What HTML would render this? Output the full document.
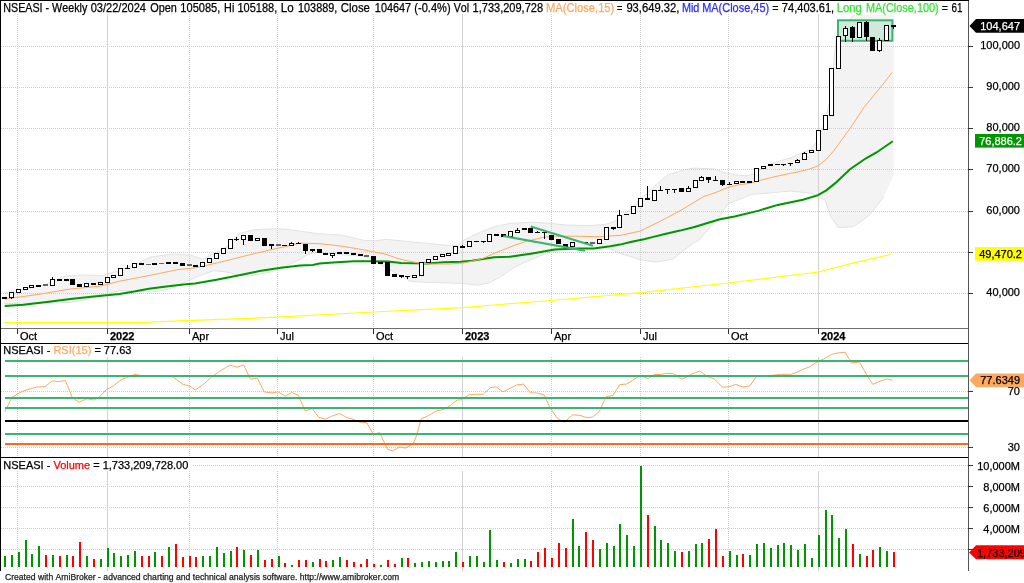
<!DOCTYPE html><html><head><meta charset="utf-8"><title>NSEASI Weekly</title><style>html,body{margin:0;padding:0;background:#fff;width:1024px;height:583px;overflow:hidden}</style></head><body><svg width="1024" height="583" viewBox="0 0 1024 583" style="display:block">
<rect width="1024" height="583" fill="#fff"/>
<polygon points="4.0,293.0 20.0,290.0 35.0,286.5 46.9,283.8 64.5,276.1 82.0,275.0 103.0,275.5 120.0,270.0 138.8,262.9 150.0,257.2 172.7,254.0 190.3,255.0 202.6,259.3 215.0,253.0 228.0,246.0 238.8,233.6 254.5,229.6 277.9,228.7 297.4,230.6 317.0,233.6 340.8,235.0 364.4,240.4 375.2,240.9 386.0,239.3 405.0,241.2 427.3,243.4 449.6,245.6 458.5,245.1 463.0,240.6 471.9,236.1 483.0,231.1 494.2,226.7 510.0,223.4 532.3,222.2 551.2,223.4 565.7,225.0 588.0,225.6 604.7,224.5 613.6,221.7 620.0,218.3 640.0,200.0 654.8,185.6 668.0,174.8 683.6,170.0 693.5,168.1 714.0,168.9 724.3,172.6 734.6,174.7 744.9,175.7 749.0,175.2 753.7,173.4 773.6,162.9 791.0,157.6 803.0,152.3 810.0,149.8 815.0,143.8 818.0,140.2 824.0,125.0 830.0,100.0 836.0,40.0 845.0,25.0 853.6,15.0 893.7,15.0 893.7,175.0 883.4,197.4 868.3,216.2 853.2,226.8 838.1,227.5 830.6,216.2 825.0,200.0 818.0,197.0 812.0,193.4 790.0,191.0 770.0,193.0 750.0,194.5 744.9,197.3 728.4,203.5 720.0,215.6 699.2,240.0 693.5,243.0 672.9,259.1 656.4,262.1 642.0,260.1 621.4,253.9 610.0,249.0 576.9,248.6 554.6,250.0 543.4,254.6 532.3,259.0 521.1,264.0 510.9,269.6 499.7,277.4 488.6,283.0 477.4,285.2 463.0,283.5 449.6,283.0 427.3,282.4 410.0,281.2 392.0,271.0 374.0,260.8 364.4,256.5 340.0,254.5 314.0,252.2 305.0,256.1 300.0,259.2 286.3,265.8 270.2,272.2 248.7,276.0 240.0,275.4 227.2,272.2 214.3,270.6 200.0,275.5 185.0,282.0 168.4,289.2 155.0,292.0 120.0,290.5 100.0,295.5 81.0,300.5 70.3,302.5 35.0,303.0 3.5,303.7" fill="#f3f3f3"/>
<polyline points="4.0,293.0 20.0,290.0 35.0,286.5 46.9,283.8 64.5,276.1 82.0,275.0 103.0,275.5 120.0,270.0 138.8,262.9 150.0,257.2 172.7,254.0 190.3,255.0 202.6,259.3 215.0,253.0 228.0,246.0 238.8,233.6 254.5,229.6 277.9,228.7 297.4,230.6 317.0,233.6 340.8,235.0 364.4,240.4 375.2,240.9 386.0,239.3 405.0,241.2 427.3,243.4 449.6,245.6 458.5,245.1 463.0,240.6 471.9,236.1 483.0,231.1 494.2,226.7 510.0,223.4 532.3,222.2 551.2,223.4 565.7,225.0 588.0,225.6 604.7,224.5 613.6,221.7 620.0,218.3 640.0,200.0 654.8,185.6 668.0,174.8 683.6,170.0 693.5,168.1 714.0,168.9 724.3,172.6 734.6,174.7 744.9,175.7 749.0,175.2 753.7,173.4 773.6,162.9 791.0,157.6 803.0,152.3 810.0,149.8 815.0,143.8 818.0,140.2 824.0,125.0 830.0,100.0 836.0,40.0 845.0,25.0 853.6,15.0" fill="none" stroke="#e0e0e0" stroke-width="0.9"/>
<polyline points="883.4,197.4 868.3,216.2 853.2,226.8 838.1,227.5 830.6,216.2 825.0,200.0 818.0,197.0 812.0,193.4 790.0,191.0 770.0,193.0 750.0,194.5 744.9,197.3 728.4,203.5 720.0,215.6 699.2,240.0 693.5,243.0 672.9,259.1 656.4,262.1 642.0,260.1 621.4,253.9 610.0,249.0 576.9,248.6 554.6,250.0 543.4,254.6 532.3,259.0 521.1,264.0 510.9,269.6 499.7,277.4 488.6,283.0 477.4,285.2 463.0,283.5 449.6,283.0 427.3,282.4 410.0,281.2 392.0,271.0 374.0,260.8 364.4,256.5 340.0,254.5 314.0,252.2 305.0,256.1 300.0,259.2 286.3,265.8 270.2,272.2 248.7,276.0 240.0,275.4 227.2,272.2 214.3,270.6 200.0,275.5 185.0,282.0 168.4,289.2 155.0,292.0 120.0,290.5 100.0,295.5 81.0,300.5 70.3,302.5 35.0,303.0 3.5,303.7" fill="none" stroke="#e0e0e0" stroke-width="0.9"/>
<g shape-rendering="crispEdges">
<line x1="1" y1="46.5" x2="968" y2="46.5" stroke="#cdcdcd" stroke-dasharray="1 1"/>
<line x1="1" y1="87.5" x2="968" y2="87.5" stroke="#cdcdcd" stroke-dasharray="1 1"/>
<line x1="1" y1="128.5" x2="968" y2="128.5" stroke="#cdcdcd" stroke-dasharray="1 1"/>
<line x1="1" y1="169.5" x2="968" y2="169.5" stroke="#cdcdcd" stroke-dasharray="1 1"/>
<line x1="1" y1="211.5" x2="968" y2="211.5" stroke="#cdcdcd" stroke-dasharray="1 1"/>
<line x1="1" y1="252.5" x2="968" y2="252.5" stroke="#cdcdcd" stroke-dasharray="1 1"/>
<line x1="1" y1="293.5" x2="968" y2="293.5" stroke="#cdcdcd" stroke-dasharray="1 1"/>
<line x1="17.5" y1="14" x2="17.5" y2="328" stroke="#cdcdcd" stroke-dasharray="1 1"/>
<line x1="189.5" y1="14" x2="189.5" y2="328" stroke="#cdcdcd" stroke-dasharray="1 1"/>
<line x1="277.5" y1="14" x2="277.5" y2="328" stroke="#cdcdcd" stroke-dasharray="1 1"/>
<line x1="373.5" y1="14" x2="373.5" y2="328" stroke="#cdcdcd" stroke-dasharray="1 1"/>
<line x1="551.5" y1="14" x2="551.5" y2="328" stroke="#cdcdcd" stroke-dasharray="1 1"/>
<line x1="640.5" y1="14" x2="640.5" y2="328" stroke="#cdcdcd" stroke-dasharray="1 1"/>
<line x1="728.5" y1="14" x2="728.5" y2="328" stroke="#cdcdcd" stroke-dasharray="1 1"/>
<line x1="107.5" y1="14" x2="107.5" y2="328" stroke="#d2d2d2"/>
<line x1="462.5" y1="14" x2="462.5" y2="328" stroke="#d2d2d2"/>
<line x1="818.5" y1="14" x2="818.5" y2="328" stroke="#d2d2d2"/>
</g>
<polyline points="4.5,322.5 142.6,322.3 185.5,320.7 200.0,320.2 277.6,317.2 373.7,312.0 462.2,307.6 500.0,304.5 550.8,300.5 640.6,292.7 728.5,283.0 818.4,272.0 851.6,263.4 890.6,254.5" fill="none" stroke="#ffff00" stroke-width="1.2"/>
<polyline points="4.7,306.0 23.4,304.8 46.9,301.9 70.3,299.0 93.8,296.6 119.5,294.1 134.2,291.6 148.8,288.7 168.4,286.2 185.9,284.3 195.0,283.5 216.5,279.7 238.0,275.4 259.4,271.1 281.0,267.7 300.0,265.4 312.9,264.9 319.3,263.5 333.3,262.4 353.7,261.3 369.8,261.3 388.0,261.6 401.0,263.1 427.3,263.4 444.0,262.3 460.7,261.8 471.9,260.7 483.0,259.0 494.2,257.3 510.0,256.8 532.3,253.4 554.6,249.5 576.9,248.4 593.6,248.4 610.3,246.2 620.0,244.6 631.7,241.8 644.0,239.3 652.3,237.1 665.0,234.0 680.0,230.6 693.5,227.2 710.0,222.2 720.0,219.2 734.6,216.4 758.9,210.6 777.7,204.9 802.9,199.8 818.0,195.1 826.3,190.4 835.0,183.4 850.0,169.3 865.6,158.5 876.5,152.5 892.8,141.2" fill="none" stroke="#009600" stroke-width="2"/>
<polyline points="4.7,299.0 35.2,294.9 70.3,289.0 100.0,286.2 119.5,281.2 139.0,277.5 158.6,273.6 178.1,269.6 195.0,267.9 216.5,263.1 238.0,257.7 259.4,252.4 281.0,247.5 300.0,243.1 321.5,243.8 343.0,246.3 364.4,250.0 375.2,252.2 386.0,254.3 396.7,258.1 405.0,260.4 418.4,262.9 431.7,264.0 449.6,264.0 463.0,263.1 474.1,260.7 483.0,258.4 494.2,253.4 505.3,249.0 515.0,245.1 526.7,241.2 543.4,237.3 554.6,236.2 576.9,236.2 599.2,236.7 620.0,235.4 639.8,231.2 659.6,221.6 680.0,210.8 692.0,203.6 704.0,196.4 715.0,192.8 728.5,187.3 738.4,184.9 750.2,183.2 761.9,179.9 773.6,177.0 785.3,174.4 797.0,172.0 808.8,169.3 818.1,165.8 826.3,159.4 833.4,151.2 850.0,128.5 864.4,106.9 881.3,86.4 892.1,72.5" fill="none" stroke="#ffa860" stroke-width="1"/>
<rect x="838" y="20.3" width="54.4" height="20.5" fill="#cfeadb" stroke="#3cb371" stroke-width="2"/>
<g shape-rendering="crispEdges">
<rect x="2" y="297" width="5" height="2" fill="#000"/>
<line x1="11.5" y1="298" x2="11.5" y2="299" stroke="#000"/>
<rect x="9.5" y="292.5" width="4" height="5" fill="#fff" stroke="#000"/>
<rect x="16.5" y="289.5" width="4" height="3" fill="#fff" stroke="#000"/>
<rect x="23.5" y="287.5" width="4" height="2" fill="#fff" stroke="#000"/>
<rect x="29.5" y="285.5" width="4" height="2" fill="#fff" stroke="#000"/>
<rect x="36" y="285" width="5" height="2" fill="#000"/>
<rect x="43" y="284" width="5" height="2" fill="#666"/>
<line x1="52.5" y1="277" x2="52.5" y2="279" stroke="#000"/>
<rect x="50.5" y="279.5" width="4" height="6" fill="#fff" stroke="#000"/>
<rect x="57" y="279" width="5" height="2" fill="#000"/>
<rect x="64" y="279" width="5" height="2" fill="#000"/>
<rect x="70" y="279" width="5" height="6" fill="#000"/>
<rect x="77" y="284" width="5" height="3" fill="#000"/>
<rect x="84.5" y="283.5" width="4" height="3" fill="#fff" stroke="#000"/>
<rect x="91" y="283" width="5" height="2" fill="#000"/>
<rect x="98.5" y="282.5" width="4" height="2" fill="#fff" stroke="#000"/>
<rect x="105.5" y="277.5" width="4" height="5" fill="#fff" stroke="#000"/>
<rect x="111.5" y="275.5" width="4" height="2" fill="#fff" stroke="#000"/>
<rect x="118.5" y="268.5" width="4" height="7" fill="#fff" stroke="#000"/>
<line x1="127.5" y1="265" x2="127.5" y2="268" stroke="#000"/>
<rect x="125" y="268" width="5" height="1" fill="#000"/>
<rect x="132.5" y="263.5" width="4" height="4" fill="#fff" stroke="#000"/>
<rect x="139" y="263" width="5" height="2" fill="#000"/>
<rect x="146" y="264" width="5" height="1" fill="#666"/>
<rect x="152" y="263" width="5" height="2" fill="#000"/>
<rect x="159" y="263" width="5" height="1" fill="#666"/>
<rect x="166" y="262" width="5" height="2" fill="#000"/>
<rect x="173" y="262" width="5" height="2" fill="#000"/>
<rect x="180" y="263" width="5" height="3" fill="#000"/>
<rect x="187" y="264" width="5" height="2" fill="#666"/>
<rect x="193" y="265" width="5" height="2" fill="#000"/>
<rect x="200.5" y="262.5" width="4" height="4" fill="#fff" stroke="#000"/>
<rect x="207.5" y="258.5" width="4" height="4" fill="#fff" stroke="#000"/>
<rect x="214.5" y="253.5" width="4" height="5" fill="#fff" stroke="#000"/>
<rect x="221.5" y="248.5" width="4" height="5" fill="#fff" stroke="#000"/>
<rect x="228.5" y="239.5" width="4" height="9" fill="#fff" stroke="#000"/>
<line x1="236.5" y1="237" x2="236.5" y2="239" stroke="#000"/>
<line x1="236.5" y1="240" x2="236.5" y2="241" stroke="#000"/>
<rect x="234" y="239" width="5" height="1" fill="#000"/>
<line x1="243.5" y1="240" x2="243.5" y2="245" stroke="#000"/>
<rect x="241.5" y="235.5" width="4" height="4" fill="#fff" stroke="#000"/>
<rect x="248" y="235" width="5" height="6" fill="#000"/>
<rect x="255.5" y="238.5" width="4" height="2" fill="#fff" stroke="#000"/>
<rect x="262" y="238" width="5" height="8" fill="#000"/>
<line x1="271.5" y1="246" x2="271.5" y2="249" stroke="#000"/>
<rect x="269" y="244" width="5" height="2" fill="#000"/>
<rect x="276" y="244" width="5" height="2" fill="#666"/>
<rect x="282" y="245" width="5" height="1" fill="#000"/>
<line x1="291.5" y1="242" x2="291.5" y2="243" stroke="#000"/>
<rect x="289.5" y="243.5" width="4" height="2" fill="#fff" stroke="#000"/>
<line x1="298.5" y1="242" x2="298.5" y2="243" stroke="#000"/>
<rect x="296" y="243" width="5" height="1" fill="#000"/>
<line x1="305.5" y1="251" x2="305.5" y2="254" stroke="#000"/>
<rect x="303" y="244" width="5" height="7" fill="#000"/>
<line x1="312.5" y1="251" x2="312.5" y2="252" stroke="#000"/>
<rect x="310" y="249" width="5" height="2" fill="#000"/>
<rect x="317" y="249" width="5" height="4" fill="#000"/>
<rect x="323" y="253" width="5" height="2" fill="#000"/>
<line x1="332.5" y1="256" x2="332.5" y2="258" stroke="#000"/>
<rect x="330.5" y="253.5" width="4" height="2" fill="#fff" stroke="#000"/>
<rect x="337" y="252" width="5" height="2" fill="#000"/>
<rect x="344" y="252" width="5" height="2" fill="#000"/>
<rect x="351" y="253" width="5" height="2" fill="#000"/>
<rect x="358" y="254" width="5" height="2" fill="#000"/>
<rect x="364" y="255" width="5" height="2" fill="#666"/>
<rect x="371" y="256" width="5" height="8" fill="#000"/>
<rect x="378" y="262" width="5" height="2" fill="#000"/>
<rect x="385" y="262" width="5" height="14" fill="#000"/>
<rect x="392" y="274" width="5" height="3" fill="#000"/>
<line x1="401.5" y1="277" x2="401.5" y2="278" stroke="#000"/>
<rect x="399" y="275" width="5" height="2" fill="#000"/>
<line x1="407.5" y1="277" x2="407.5" y2="279" stroke="#000"/>
<rect x="405" y="276" width="5" height="1" fill="#000"/>
<rect x="412.5" y="275.5" width="4" height="2" fill="#fff" stroke="#000"/>
<rect x="419.5" y="262.5" width="4" height="13" fill="#fff" stroke="#000"/>
<rect x="426.5" y="259.5" width="4" height="3" fill="#fff" stroke="#000"/>
<rect x="433.5" y="256.5" width="4" height="3" fill="#fff" stroke="#000"/>
<rect x="440.5" y="254.5" width="4" height="2" fill="#fff" stroke="#000"/>
<rect x="446.5" y="253.5" width="4" height="2" fill="#fff" stroke="#000"/>
<rect x="453.5" y="246.5" width="4" height="7" fill="#fff" stroke="#000"/>
<line x1="462.5" y1="245" x2="462.5" y2="246" stroke="#000"/>
<line x1="462.5" y1="248" x2="462.5" y2="248" stroke="#000"/>
<rect x="460" y="246" width="5" height="2" fill="#000"/>
<rect x="467.5" y="241.5" width="4" height="5" fill="#fff" stroke="#000"/>
<rect x="474" y="241" width="5" height="1" fill="#000"/>
<line x1="483.5" y1="242" x2="483.5" y2="243" stroke="#000"/>
<rect x="481" y="241" width="5" height="1" fill="#000"/>
<rect x="487.5" y="234.5" width="4" height="7" fill="#fff" stroke="#000"/>
<rect x="494" y="234" width="5" height="2" fill="#000"/>
<rect x="501" y="234" width="5" height="3" fill="#000"/>
<rect x="508.5" y="231.5" width="4" height="5" fill="#fff" stroke="#000"/>
<line x1="517.5" y1="228" x2="517.5" y2="230" stroke="#000"/>
<rect x="515.5" y="230.5" width="4" height="2" fill="#fff" stroke="#000"/>
<rect x="522" y="228" width="5" height="2" fill="#000"/>
<rect x="528" y="228" width="5" height="5" fill="#000"/>
<line x1="537.5" y1="231" x2="537.5" y2="232" stroke="#000"/>
<line x1="537.5" y1="233" x2="537.5" y2="233" stroke="#000"/>
<rect x="535" y="232" width="5" height="1" fill="#000"/>
<line x1="544.5" y1="233" x2="544.5" y2="239" stroke="#000"/>
<rect x="542" y="232" width="5" height="1" fill="#000"/>
<rect x="549" y="235" width="5" height="5" fill="#000"/>
<rect x="556" y="239" width="5" height="5" fill="#000"/>
<rect x="563" y="244" width="5" height="3" fill="#000"/>
<rect x="570.5" y="242.5" width="4" height="4" fill="#fff" stroke="#000"/>
<rect x="583" y="242" width="5" height="1" fill="#000"/>
<line x1="592.5" y1="242" x2="592.5" y2="242" stroke="#000"/>
<rect x="590" y="242" width="5" height="2" fill="#666"/>
<rect x="597.5" y="239.5" width="4" height="4" fill="#fff" stroke="#000"/>
<rect x="604.5" y="227.5" width="4" height="12" fill="#fff" stroke="#000"/>
<line x1="613.5" y1="229" x2="613.5" y2="230" stroke="#000"/>
<rect x="611" y="227" width="5" height="2" fill="#000"/>
<line x1="619.5" y1="210" x2="619.5" y2="215" stroke="#000"/>
<rect x="617.5" y="215.5" width="4" height="12" fill="#fff" stroke="#000"/>
<rect x="624" y="214" width="5" height="1" fill="#000"/>
<rect x="631.5" y="206.5" width="4" height="7" fill="#fff" stroke="#000"/>
<rect x="638.5" y="198.5" width="4" height="8" fill="#fff" stroke="#000"/>
<line x1="647.5" y1="186" x2="647.5" y2="198" stroke="#000"/>
<rect x="645" y="198" width="5" height="2" fill="#000"/>
<rect x="652.5" y="190.5" width="4" height="10" fill="#fff" stroke="#000"/>
<line x1="660.5" y1="186" x2="660.5" y2="190" stroke="#000"/>
<rect x="658" y="190" width="5" height="1" fill="#000"/>
<line x1="667.5" y1="190" x2="667.5" y2="194" stroke="#000"/>
<rect x="665" y="189" width="5" height="1" fill="#000"/>
<line x1="674.5" y1="190" x2="674.5" y2="193" stroke="#000"/>
<rect x="672" y="189" width="5" height="1" fill="#000"/>
<rect x="679" y="188" width="5" height="4" fill="#000"/>
<line x1="688.5" y1="186" x2="688.5" y2="188" stroke="#000"/>
<rect x="686.5" y="188.5" width="4" height="3" fill="#fff" stroke="#000"/>
<rect x="693.5" y="180.5" width="4" height="7" fill="#fff" stroke="#000"/>
<line x1="701.5" y1="176" x2="701.5" y2="177" stroke="#000"/>
<rect x="699.5" y="177.5" width="4" height="3" fill="#fff" stroke="#000"/>
<line x1="708.5" y1="180" x2="708.5" y2="183" stroke="#000"/>
<rect x="706" y="177" width="5" height="3" fill="#000"/>
<line x1="715.5" y1="176" x2="715.5" y2="180" stroke="#000"/>
<rect x="713" y="180" width="5" height="1" fill="#000"/>
<line x1="722.5" y1="185" x2="722.5" y2="186" stroke="#000"/>
<rect x="720" y="180" width="5" height="5" fill="#000"/>
<line x1="729.5" y1="182" x2="729.5" y2="184" stroke="#000"/>
<rect x="727" y="184" width="5" height="1" fill="#000"/>
<rect x="734.5" y="181.5" width="4" height="2" fill="#fff" stroke="#000"/>
<rect x="740" y="181" width="5" height="2" fill="#000"/>
<rect x="747" y="181" width="5" height="2" fill="#000"/>
<rect x="754.5" y="168.5" width="4" height="13" fill="#fff" stroke="#000"/>
<rect x="761.5" y="166.5" width="4" height="2" fill="#fff" stroke="#000"/>
<rect x="768" y="164" width="5" height="2" fill="#000"/>
<rect x="775" y="164" width="5" height="1" fill="#000"/>
<line x1="783.5" y1="165" x2="783.5" y2="166" stroke="#000"/>
<rect x="781" y="164" width="5" height="1" fill="#000"/>
<line x1="790.5" y1="164" x2="790.5" y2="166" stroke="#000"/>
<rect x="788" y="163" width="5" height="1" fill="#000"/>
<line x1="797.5" y1="159" x2="797.5" y2="160" stroke="#000"/>
<rect x="795.5" y="160.5" width="4" height="2" fill="#fff" stroke="#000"/>
<line x1="804.5" y1="152" x2="804.5" y2="153" stroke="#000"/>
<rect x="802.5" y="153.5" width="4" height="6" fill="#fff" stroke="#000"/>
<rect x="809.5" y="150.5" width="4" height="2" fill="#fff" stroke="#000"/>
<rect x="816.5" y="130.5" width="4" height="20" fill="#fff" stroke="#000"/>
<rect x="823.5" y="115.5" width="4" height="14" fill="#fff" stroke="#000"/>
<rect x="829.5" y="68.5" width="4" height="47" fill="#fff" stroke="#000"/>
<rect x="836.5" y="36.5" width="4" height="32" fill="#fff" stroke="#000"/>
<line x1="845.5" y1="26" x2="845.5" y2="28" stroke="#000"/>
<line x1="845.5" y1="36" x2="845.5" y2="42" stroke="#000"/>
<rect x="843.5" y="28.5" width="4" height="7" fill="#fff" stroke="#000"/>
<line x1="852.5" y1="26" x2="852.5" y2="27" stroke="#000"/>
<line x1="852.5" y1="38" x2="852.5" y2="42" stroke="#000"/>
<rect x="850" y="27" width="5" height="11" fill="#000"/>
<rect x="857.5" y="22.5" width="4" height="15" fill="#fff" stroke="#000"/>
<line x1="866.5" y1="21" x2="866.5" y2="22" stroke="#000"/>
<line x1="866.5" y1="37" x2="866.5" y2="41" stroke="#000"/>
<rect x="864" y="22" width="5" height="15" fill="#000"/>
<rect x="870" y="37" width="5" height="14" fill="#000"/>
<line x1="879.5" y1="38" x2="879.5" y2="40" stroke="#000"/>
<line x1="879.5" y1="51" x2="879.5" y2="52" stroke="#000"/>
<rect x="877.5" y="40.5" width="4" height="10" fill="#fff" stroke="#000"/>
<rect x="884.5" y="25.5" width="4" height="15" fill="#fff" stroke="#000"/>
<line x1="893.5" y1="27" x2="893.5" y2="29" stroke="#000"/>
<rect x="891" y="25" width="5" height="2" fill="#000"/>
</g>
<line x1="503.2" y1="236" x2="585" y2="250.7" stroke="#3cb371" stroke-width="2"/>
<line x1="530.7" y1="226.5" x2="592.9" y2="245.7" stroke="#3cb371" stroke-width="2"/>
<text x="3.22" y="11.8" font-family="'Liberation Sans', Arial, sans-serif" font-size="12" fill="#000" textLength="84.10" lengthAdjust="spacingAndGlyphs" style="white-space:pre;font-kerning:none" stroke="#000" stroke-width="0.25">NSEASI - Weekly</text>
<text x="90.67" y="11.8" font-family="'Liberation Sans', Arial, sans-serif" font-size="12" fill="#000" textLength="55.36" lengthAdjust="spacingAndGlyphs" style="white-space:pre;font-kerning:none" stroke="#000" stroke-width="0.25">03/22/2024</text>
<text x="150.18" y="11.8" font-family="'Liberation Sans', Arial, sans-serif" font-size="12" fill="#000" textLength="26.62" lengthAdjust="spacingAndGlyphs" style="white-space:pre;font-kerning:none" stroke="#000" stroke-width="0.25">Open</text>
<text x="180.36" y="11.8" font-family="'Liberation Sans', Arial, sans-serif" font-size="12" fill="#000" textLength="39.93" lengthAdjust="spacingAndGlyphs" style="white-space:pre;font-kerning:none" stroke="#000" stroke-width="0.25">105085,</text>
<text x="224.11" y="11.8" font-family="'Liberation Sans', Arial, sans-serif" font-size="12" fill="#000" textLength="10.22" lengthAdjust="spacingAndGlyphs" style="white-space:pre;font-kerning:none" stroke="#000" stroke-width="0.25">Hi</text>
<text x="237.46" y="11.8" font-family="'Liberation Sans', Arial, sans-serif" font-size="12" fill="#000" textLength="39.83" lengthAdjust="spacingAndGlyphs" style="white-space:pre;font-kerning:none" stroke="#000" stroke-width="0.25">105188,</text>
<text x="280.75" y="11.8" font-family="'Liberation Sans', Arial, sans-serif" font-size="12" fill="#000" textLength="12.94" lengthAdjust="spacingAndGlyphs" style="white-space:pre;font-kerning:none" stroke="#000" stroke-width="0.25">Lo</text>
<text x="298.07" y="11.8" font-family="'Liberation Sans', Arial, sans-serif" font-size="12" fill="#000" textLength="39.20" lengthAdjust="spacingAndGlyphs" style="white-space:pre;font-kerning:none" stroke="#000" stroke-width="0.25">103889,</text>
<text x="340.82" y="11.8" font-family="'Liberation Sans', Arial, sans-serif" font-size="12" fill="#000" textLength="29.08" lengthAdjust="spacingAndGlyphs" style="white-space:pre;font-kerning:none" stroke="#000" stroke-width="0.25">Close</text>
<text x="374.87" y="11.8" font-family="'Liberation Sans', Arial, sans-serif" font-size="12" fill="#000" textLength="36.27" lengthAdjust="spacingAndGlyphs" style="white-space:pre;font-kerning:none" stroke="#000" stroke-width="0.25">104647</text>
<text x="414.31" y="11.8" font-family="'Liberation Sans', Arial, sans-serif" font-size="12" fill="#000" textLength="36.27" lengthAdjust="spacingAndGlyphs" style="white-space:pre;font-kerning:none" stroke="#000" stroke-width="0.25">(-0.4%)</text>
<text x="453.65" y="11.8" font-family="'Liberation Sans', Arial, sans-serif" font-size="12" fill="#000" textLength="15.36" lengthAdjust="spacingAndGlyphs" style="white-space:pre;font-kerning:none" stroke="#000" stroke-width="0.25">Vol</text>
<text x="472.56" y="11.8" font-family="'Liberation Sans', Arial, sans-serif" font-size="12" fill="#000" textLength="70.52" lengthAdjust="spacingAndGlyphs" style="white-space:pre;font-kerning:none" stroke="#000" stroke-width="0.25">1,733,209,728</text>
<text x="546.08" y="11.8" font-family="'Liberation Sans', Arial, sans-serif" font-size="12" fill="#ffa860" textLength="68.21" lengthAdjust="spacingAndGlyphs" style="white-space:pre;font-kerning:none" stroke="#ffa860" stroke-width="0.25">MA(Close,15)</text>
<text x="616.95" y="11.8" font-family="'Liberation Sans', Arial, sans-serif" font-size="12" fill="#000" textLength="5.41" lengthAdjust="spacingAndGlyphs" style="white-space:pre;font-kerning:none" stroke="#000" stroke-width="0.25">=</text>
<text x="626.38" y="11.8" font-family="'Liberation Sans', Arial, sans-serif" font-size="12" fill="#000" textLength="52.93" lengthAdjust="spacingAndGlyphs" style="white-space:pre;font-kerning:none" stroke="#000" stroke-width="0.25">93,649.32,</text>
<text x="681.91" y="11.8" font-family="'Liberation Sans', Arial, sans-serif" font-size="12" fill="#2a2aff" textLength="17.49" lengthAdjust="spacingAndGlyphs" style="white-space:pre;font-kerning:none" stroke="#2a2aff" stroke-width="0.25">Mid</text>
<text x="702.20" y="11.8" font-family="'Liberation Sans', Arial, sans-serif" font-size="12" fill="#2a2aff" textLength="66.98" lengthAdjust="spacingAndGlyphs" style="white-space:pre;font-kerning:none" stroke="#2a2aff" stroke-width="0.25">MA(Close,45)</text>
<text x="772.28" y="11.8" font-family="'Liberation Sans', Arial, sans-serif" font-size="12" fill="#000" textLength="6.25" lengthAdjust="spacingAndGlyphs" style="white-space:pre;font-kerning:none" stroke="#000" stroke-width="0.25">=</text>
<text x="781.83" y="11.8" font-family="'Liberation Sans', Arial, sans-serif" font-size="12" fill="#000" textLength="52.36" lengthAdjust="spacingAndGlyphs" style="white-space:pre;font-kerning:none" stroke="#000" stroke-width="0.25">74,403.61,</text>
<text x="836.67" y="11.8" font-family="'Liberation Sans', Arial, sans-serif" font-size="12" fill="#33e633" textLength="25.16" lengthAdjust="spacingAndGlyphs" style="white-space:pre;font-kerning:none" stroke="#33e633" stroke-width="0.25">Long</text>
<text x="865.90" y="11.8" font-family="'Liberation Sans', Arial, sans-serif" font-size="12" fill="#33e633" textLength="72.87" lengthAdjust="spacingAndGlyphs" style="white-space:pre;font-kerning:none" stroke="#33e633" stroke-width="0.25">MA(Close,100)</text>
<text x="941.79" y="11.8" font-family="'Liberation Sans', Arial, sans-serif" font-size="12" fill="#000" textLength="6.13" lengthAdjust="spacingAndGlyphs" style="white-space:pre;font-kerning:none" stroke="#000" stroke-width="0.25">=</text>
<text x="951.40" y="11.8" font-family="'Liberation Sans', Arial, sans-serif" font-size="12" fill="#000" textLength="10.98" lengthAdjust="spacingAndGlyphs" style="white-space:pre;font-kerning:none" stroke="#000" stroke-width="0.25">61</text>
<g shape-rendering="crispEdges">
<line x1="0" y1="328.5" x2="968" y2="328.5" stroke="#6e6e6e"/>
<line x1="17.5" y1="329" x2="17.5" y2="334" stroke="#333"/>
<line x1="189.5" y1="329" x2="189.5" y2="334" stroke="#333"/>
<line x1="277.5" y1="329" x2="277.5" y2="334" stroke="#333"/>
<line x1="373.5" y1="329" x2="373.5" y2="334" stroke="#333"/>
<line x1="551.5" y1="329" x2="551.5" y2="334" stroke="#333"/>
<line x1="640.5" y1="329" x2="640.5" y2="334" stroke="#333"/>
<line x1="728.5" y1="329" x2="728.5" y2="334" stroke="#333"/>
<line x1="107.5" y1="329" x2="107.5" y2="334" stroke="#333"/>
<line x1="462.5" y1="329" x2="462.5" y2="334" stroke="#333"/>
<line x1="818.5" y1="329" x2="818.5" y2="334" stroke="#333"/>
</g>
<text x="20" y="339.5" font-family="'Liberation Sans', Arial, sans-serif" font-size="11" font-weight="normal" fill="#000" stroke="#000" stroke-width="0.25">Oct</text>
<text x="110" y="339.5" font-family="'Liberation Sans', Arial, sans-serif" font-size="11" font-weight="bold" fill="#000" stroke="#000" stroke-width="0.25">2022</text>
<text x="192" y="339.5" font-family="'Liberation Sans', Arial, sans-serif" font-size="11" font-weight="normal" fill="#000" stroke="#000" stroke-width="0.25">Apr</text>
<text x="280" y="339.5" font-family="'Liberation Sans', Arial, sans-serif" font-size="11" font-weight="normal" fill="#000" stroke="#000" stroke-width="0.25">Jul</text>
<text x="376" y="339.5" font-family="'Liberation Sans', Arial, sans-serif" font-size="11" font-weight="normal" fill="#000" stroke="#000" stroke-width="0.25">Oct</text>
<text x="465" y="339.5" font-family="'Liberation Sans', Arial, sans-serif" font-size="11" font-weight="bold" fill="#000" stroke="#000" stroke-width="0.25">2023</text>
<text x="554" y="339.5" font-family="'Liberation Sans', Arial, sans-serif" font-size="11" font-weight="normal" fill="#000" stroke="#000" stroke-width="0.25">Apr</text>
<text x="643" y="339.5" font-family="'Liberation Sans', Arial, sans-serif" font-size="11" font-weight="normal" fill="#000" stroke="#000" stroke-width="0.25">Jul</text>
<text x="731" y="339.5" font-family="'Liberation Sans', Arial, sans-serif" font-size="11" font-weight="normal" fill="#000" stroke="#000" stroke-width="0.25">Oct</text>
<text x="821" y="339.5" font-family="'Liberation Sans', Arial, sans-serif" font-size="11" font-weight="bold" fill="#000" stroke="#000" stroke-width="0.25">2024</text>
<g shape-rendering="crispEdges">
<line x1="0" y1="343.5" x2="968" y2="343.5" stroke="#000"/>
</g>
<g shape-rendering="crispEdges">
<line x1="1" y1="391.5" x2="968" y2="391.5" stroke="#cdcdcd" stroke-dasharray="1 1"/>
<line x1="1" y1="447.5" x2="968" y2="447.5" stroke="#cdcdcd" stroke-dasharray="1 1"/>
<line x1="17.5" y1="357" x2="17.5" y2="457" stroke="#cdcdcd" stroke-dasharray="1 1"/>
<line x1="189.5" y1="357" x2="189.5" y2="457" stroke="#cdcdcd" stroke-dasharray="1 1"/>
<line x1="277.5" y1="357" x2="277.5" y2="457" stroke="#cdcdcd" stroke-dasharray="1 1"/>
<line x1="373.5" y1="357" x2="373.5" y2="457" stroke="#cdcdcd" stroke-dasharray="1 1"/>
<line x1="551.5" y1="357" x2="551.5" y2="457" stroke="#cdcdcd" stroke-dasharray="1 1"/>
<line x1="640.5" y1="357" x2="640.5" y2="457" stroke="#cdcdcd" stroke-dasharray="1 1"/>
<line x1="728.5" y1="357" x2="728.5" y2="457" stroke="#cdcdcd" stroke-dasharray="1 1"/>
<line x1="107.5" y1="357" x2="107.5" y2="457" stroke="#d2d2d2"/>
<line x1="462.5" y1="357" x2="462.5" y2="457" stroke="#d2d2d2"/>
<line x1="818.5" y1="357" x2="818.5" y2="457" stroke="#d2d2d2"/>
</g>
<polyline points="4.9,411.8 11.7,397.7 17.6,393.8 23.4,390.9 29.3,389.0 37.1,387.0 44.9,386.6 52.7,380.7 57.6,381.7 65.4,380.5 72.3,397.7 79.1,402.2 86.9,398.7 93.8,400.1 99.6,396.8 106.4,389.5 113.3,386.0 121.1,379.8 127.9,377.2 134.8,374.3 141.5,375.6 148.5,376.0 155.3,375.8 162.0,376.2 171.9,376.2 182.6,384.1 189.5,386.0 195.5,389.9 203.7,384.1 211.5,377.2 219.3,371.4 230.0,365.1 236.9,367.1 243.7,365.1 250.5,379.2 257.4,378.2 264.2,391.9 272.0,392.9 277.9,391.9 285.7,396.2 291.6,392.3 298.4,395.4 305.2,411.0 312.1,408.5 318.9,417.3 325.7,419.2 331.6,416.3 339.4,413.4 346.3,417.3 354.1,419.6 359.9,422.1 366.8,422.7 373.6,434.8 379.5,432.5 385.3,444.6 387.8,449.5 392.7,450.9 399.5,447.0 405.4,448.1 413.2,443.6 416.1,436.8 421.0,419.2 428.8,415.3 436.6,411.0 444.5,409.1 450.3,405.5 457.1,400.1 462.0,399.7 468.9,394.8 475.7,394.2 483.5,394.2 490.4,387.6 496.2,387.0 503.0,391.9 509.9,388.4 516.7,385.0 523.6,384.1 530.4,392.9 536.3,392.9 544.1,394.8 549.9,407.5 557.7,418.8 564.6,422.1 572.4,414.9 579.8,415.3 585.6,417.3 592.5,417.3 599.3,411.4 606.1,396.8 613.0,395.4 619.8,384.6 626.6,384.1 632.5,380.5 638.4,376.6 643.2,376.6 648.1,378.6 654.0,374.7 661.8,374.3 665.7,373.3 673.5,373.7 681.3,379.2 687.2,376.8 692.1,373.9 699.9,371.0 706.7,376.2 714.5,379.2 722.3,387.0 728.2,387.0 736.0,384.5 742.9,387.0 749.7,386.0 756.5,376.6 763.0,375.8 770.0,375.6 780.5,374.3 790.8,374.3 795.9,372.7 803.1,369.2 809.2,367.1 817.4,361.8 823.6,359.0 831.8,354.2 836.9,353.2 845.1,352.2 851.3,363.0 859.5,362.0 866.6,374.7 872.8,384.4 881.0,380.9 887.2,378.8 892.3,380.3" fill="none" stroke="#ffa860" stroke-width="1"/>
<g shape-rendering="crispEdges">
<rect x="5" y="360" width="963" height="2" fill="#3cb371"/>
<rect x="5" y="375" width="963" height="2" fill="#3cb371"/>
<rect x="5" y="397" width="963" height="2" fill="#3cb371"/>
<rect x="5" y="407" width="963" height="2" fill="#3cb371"/>
<rect x="5" y="420" width="963" height="2" fill="#000"/>
<rect x="5" y="433" width="963" height="2" fill="#3cb371"/>
<rect x="5" y="443" width="963" height="2" fill="#ff6a1a"/>
</g>
<text x="3.3" y="354" font-family="'Liberation Sans', Arial, sans-serif" font-size="11" fill="#000" style="white-space:pre" stroke="#000" stroke-width="0.25">NSEASI - <tspan fill="#ffa860" stroke="#ffa860" stroke-width="0.25">RSI(15)</tspan> = 77.63</text>
<g shape-rendering="crispEdges">
<line x1="0" y1="457.5" x2="968" y2="457.5" stroke="#000"/>
</g>
<g shape-rendering="crispEdges">
<line x1="1" y1="465.5" x2="968" y2="465.5" stroke="#cdcdcd" stroke-dasharray="1 1"/>
<line x1="1" y1="486.5" x2="968" y2="486.5" stroke="#cdcdcd" stroke-dasharray="1 1"/>
<line x1="1" y1="507.5" x2="968" y2="507.5" stroke="#cdcdcd" stroke-dasharray="1 1"/>
<line x1="1" y1="528.5" x2="968" y2="528.5" stroke="#cdcdcd" stroke-dasharray="1 1"/>
<line x1="1" y1="549.5" x2="968" y2="549.5" stroke="#cdcdcd" stroke-dasharray="1 1"/>
<line x1="17.5" y1="471" x2="17.5" y2="571" stroke="#cdcdcd" stroke-dasharray="1 1"/>
<line x1="189.5" y1="471" x2="189.5" y2="571" stroke="#cdcdcd" stroke-dasharray="1 1"/>
<line x1="277.5" y1="471" x2="277.5" y2="571" stroke="#cdcdcd" stroke-dasharray="1 1"/>
<line x1="373.5" y1="471" x2="373.5" y2="571" stroke="#cdcdcd" stroke-dasharray="1 1"/>
<line x1="551.5" y1="471" x2="551.5" y2="571" stroke="#cdcdcd" stroke-dasharray="1 1"/>
<line x1="640.5" y1="471" x2="640.5" y2="571" stroke="#cdcdcd" stroke-dasharray="1 1"/>
<line x1="728.5" y1="471" x2="728.5" y2="571" stroke="#cdcdcd" stroke-dasharray="1 1"/>
<line x1="107.5" y1="471" x2="107.5" y2="571" stroke="#d2d2d2"/>
<line x1="462.5" y1="471" x2="462.5" y2="571" stroke="#d2d2d2"/>
<line x1="818.5" y1="471" x2="818.5" y2="571" stroke="#d2d2d2"/>
<rect x="4" y="556" width="2" height="11" fill="#009600"/>
<rect x="11" y="555" width="2" height="12" fill="#009600"/>
<rect x="18" y="552" width="2" height="15" fill="#009600"/>
<rect x="25" y="540" width="2" height="27" fill="#009600"/>
<rect x="31" y="554" width="2" height="13" fill="#009600"/>
<rect x="38" y="546" width="2" height="21" fill="#009600"/>
<rect x="45" y="555" width="2" height="12" fill="#ff0000"/>
<rect x="52" y="555" width="2" height="12" fill="#009600"/>
<rect x="59" y="556" width="2" height="11" fill="#ff0000"/>
<rect x="66" y="555" width="2" height="12" fill="#009600"/>
<rect x="72" y="556" width="2" height="11" fill="#ff0000"/>
<rect x="79" y="542" width="2" height="25" fill="#ff0000"/>
<rect x="86" y="556" width="2" height="11" fill="#009600"/>
<rect x="93" y="559" width="2" height="8" fill="#ff0000"/>
<rect x="100" y="559" width="2" height="8" fill="#009600"/>
<rect x="107" y="548" width="2" height="19" fill="#009600"/>
<rect x="113" y="553" width="2" height="14" fill="#009600"/>
<rect x="120" y="556" width="2" height="11" fill="#009600"/>
<rect x="127" y="555" width="2" height="12" fill="#009600"/>
<rect x="134" y="551" width="2" height="16" fill="#009600"/>
<rect x="141" y="556" width="2" height="11" fill="#ff0000"/>
<rect x="148" y="556" width="2" height="11" fill="#ff0000"/>
<rect x="154" y="552" width="2" height="15" fill="#009600"/>
<rect x="161" y="556" width="2" height="11" fill="#ff0000"/>
<rect x="168" y="547" width="2" height="20" fill="#009600"/>
<rect x="175" y="544" width="2" height="23" fill="#ff0000"/>
<rect x="182" y="557" width="2" height="10" fill="#ff0000"/>
<rect x="189" y="556" width="2" height="11" fill="#ff0000"/>
<rect x="195" y="557" width="2" height="10" fill="#ff0000"/>
<rect x="202" y="556" width="2" height="11" fill="#009600"/>
<rect x="209" y="556" width="2" height="11" fill="#009600"/>
<rect x="216" y="547" width="2" height="20" fill="#009600"/>
<rect x="223" y="553" width="2" height="14" fill="#009600"/>
<rect x="230" y="551" width="2" height="16" fill="#009600"/>
<rect x="236" y="547" width="2" height="20" fill="#ff0000"/>
<rect x="243" y="550" width="2" height="17" fill="#009600"/>
<rect x="250" y="555" width="2" height="12" fill="#ff0000"/>
<rect x="257" y="550" width="2" height="17" fill="#009600"/>
<rect x="264" y="560" width="2" height="7" fill="#ff0000"/>
<rect x="271" y="559" width="2" height="8" fill="#ff0000"/>
<rect x="278" y="556" width="2" height="11" fill="#009600"/>
<rect x="284" y="563" width="2" height="4" fill="#ff0000"/>
<rect x="291" y="565" width="2" height="2" fill="#009600"/>
<rect x="298" y="560" width="2" height="7" fill="#ff0000"/>
<rect x="305" y="560" width="2" height="7" fill="#ff0000"/>
<rect x="312" y="562" width="2" height="5" fill="#009600"/>
<rect x="319" y="559" width="2" height="8" fill="#ff0000"/>
<rect x="325" y="561" width="2" height="6" fill="#ff0000"/>
<rect x="332" y="560" width="2" height="7" fill="#009600"/>
<rect x="339" y="557" width="2" height="10" fill="#009600"/>
<rect x="346" y="560" width="2" height="7" fill="#ff0000"/>
<rect x="353" y="562" width="2" height="5" fill="#ff0000"/>
<rect x="360" y="564" width="2" height="3" fill="#ff0000"/>
<rect x="366" y="559" width="2" height="8" fill="#ff0000"/>
<rect x="373" y="564" width="2" height="3" fill="#ff0000"/>
<rect x="380" y="565" width="2" height="2" fill="#009600"/>
<rect x="387" y="560" width="2" height="7" fill="#ff0000"/>
<rect x="394" y="564" width="2" height="3" fill="#ff0000"/>
<rect x="401" y="558" width="2" height="9" fill="#009600"/>
<rect x="407" y="558" width="2" height="9" fill="#ff0000"/>
<rect x="414" y="563" width="2" height="4" fill="#009600"/>
<rect x="421" y="562" width="2" height="5" fill="#009600"/>
<rect x="428" y="561" width="2" height="6" fill="#009600"/>
<rect x="435" y="562" width="2" height="5" fill="#009600"/>
<rect x="442" y="561" width="2" height="6" fill="#009600"/>
<rect x="448" y="561" width="2" height="6" fill="#009600"/>
<rect x="455" y="552" width="2" height="15" fill="#009600"/>
<rect x="462" y="562" width="2" height="5" fill="#ff0000"/>
<rect x="469" y="556" width="2" height="11" fill="#009600"/>
<rect x="476" y="556" width="2" height="11" fill="#009600"/>
<rect x="483" y="562" width="2" height="5" fill="#009600"/>
<rect x="489" y="530" width="2" height="37" fill="#009600"/>
<rect x="496" y="560" width="2" height="7" fill="#009600"/>
<rect x="503" y="562" width="2" height="5" fill="#ff0000"/>
<rect x="510" y="563" width="2" height="4" fill="#009600"/>
<rect x="517" y="559" width="2" height="8" fill="#009600"/>
<rect x="524" y="559" width="2" height="8" fill="#009600"/>
<rect x="530" y="561" width="2" height="6" fill="#ff0000"/>
<rect x="537" y="552" width="2" height="15" fill="#ff0000"/>
<rect x="544" y="548" width="2" height="19" fill="#ff0000"/>
<rect x="551" y="558" width="2" height="9" fill="#ff0000"/>
<rect x="558" y="543" width="2" height="24" fill="#ff0000"/>
<rect x="565" y="548" width="2" height="19" fill="#ff0000"/>
<rect x="572" y="519" width="2" height="48" fill="#009600"/>
<rect x="578" y="546" width="2" height="21" fill="#009600"/>
<rect x="585" y="532" width="2" height="35" fill="#ff0000"/>
<rect x="592" y="540" width="2" height="27" fill="#ff0000"/>
<rect x="599" y="549" width="2" height="18" fill="#009600"/>
<rect x="606" y="543" width="2" height="24" fill="#009600"/>
<rect x="613" y="546" width="2" height="21" fill="#009600"/>
<rect x="619" y="524" width="2" height="43" fill="#009600"/>
<rect x="626" y="535" width="2" height="32" fill="#009600"/>
<rect x="633" y="546" width="2" height="21" fill="#009600"/>
<rect x="640" y="466" width="2" height="101" fill="#009600"/>
<rect x="647" y="515" width="2" height="52" fill="#ff0000"/>
<rect x="654" y="526" width="2" height="41" fill="#009600"/>
<rect x="660" y="540" width="2" height="27" fill="#009600"/>
<rect x="667" y="543" width="2" height="24" fill="#009600"/>
<rect x="674" y="551" width="2" height="16" fill="#009600"/>
<rect x="681" y="552" width="2" height="15" fill="#ff0000"/>
<rect x="688" y="551" width="2" height="16" fill="#009600"/>
<rect x="695" y="544" width="2" height="23" fill="#009600"/>
<rect x="701" y="543" width="2" height="24" fill="#009600"/>
<rect x="708" y="539" width="2" height="28" fill="#ff0000"/>
<rect x="715" y="529" width="2" height="38" fill="#ff0000"/>
<rect x="722" y="556" width="2" height="11" fill="#ff0000"/>
<rect x="729" y="551" width="2" height="16" fill="#009600"/>
<rect x="736" y="555" width="2" height="12" fill="#009600"/>
<rect x="742" y="554" width="2" height="13" fill="#ff0000"/>
<rect x="749" y="555" width="2" height="12" fill="#009600"/>
<rect x="756" y="544" width="2" height="23" fill="#009600"/>
<rect x="763" y="543" width="2" height="24" fill="#009600"/>
<rect x="770" y="548" width="2" height="19" fill="#009600"/>
<rect x="777" y="545" width="2" height="22" fill="#009600"/>
<rect x="783" y="543" width="2" height="24" fill="#009600"/>
<rect x="790" y="545" width="2" height="22" fill="#009600"/>
<rect x="797" y="550" width="2" height="17" fill="#009600"/>
<rect x="804" y="544" width="2" height="23" fill="#009600"/>
<rect x="811" y="558" width="2" height="9" fill="#009600"/>
<rect x="818" y="535" width="2" height="32" fill="#009600"/>
<rect x="825" y="510" width="2" height="57" fill="#009600"/>
<rect x="831" y="515" width="2" height="52" fill="#009600"/>
<rect x="838" y="538" width="2" height="29" fill="#009600"/>
<rect x="845" y="529" width="2" height="38" fill="#009600"/>
<rect x="852" y="544" width="2" height="23" fill="#ff0000"/>
<rect x="859" y="554" width="2" height="13" fill="#009600"/>
<rect x="866" y="556" width="2" height="11" fill="#ff0000"/>
<rect x="872" y="550" width="2" height="17" fill="#ff0000"/>
<rect x="879" y="547" width="2" height="20" fill="#009600"/>
<rect x="886" y="551" width="2" height="16" fill="#009600"/>
<rect x="893" y="552" width="2" height="15" fill="#ff0000"/>
</g>
<rect x="1" y="458" width="192" height="13" fill="#fff"/>
<text x="3.3" y="468.5" font-family="'Liberation Sans', Arial, sans-serif" font-size="11" fill="#000" style="white-space:pre" stroke="#000" stroke-width="0.25">NSEASI - <tspan fill="#ff0000" stroke="#ff0000" stroke-width="0.25">Volume</tspan> = 1,733,209,728.00</text>
<g shape-rendering="crispEdges">
<line x1="968.5" y1="0" x2="968.5" y2="571" stroke="#555"/>
<line x1="968" y1="46.5" x2="973" y2="46.5" stroke="#333"/>
<line x1="968" y1="87.5" x2="973" y2="87.5" stroke="#333"/>
<line x1="968" y1="128.5" x2="973" y2="128.5" stroke="#333"/>
<line x1="968" y1="169.5" x2="973" y2="169.5" stroke="#333"/>
<line x1="968" y1="211.5" x2="973" y2="211.5" stroke="#333"/>
<line x1="968" y1="252.5" x2="973" y2="252.5" stroke="#333"/>
<line x1="968" y1="293.5" x2="973" y2="293.5" stroke="#333"/>
<line x1="968" y1="391.5" x2="973" y2="391.5" stroke="#333"/>
<line x1="968" y1="447.5" x2="973" y2="447.5" stroke="#333"/>
<line x1="968" y1="465.5" x2="973" y2="465.5" stroke="#333"/>
<line x1="968" y1="486.5" x2="973" y2="486.5" stroke="#333"/>
<line x1="968" y1="507.5" x2="973" y2="507.5" stroke="#333"/>
<line x1="968" y1="528.5" x2="973" y2="528.5" stroke="#333"/>
<line x1="968" y1="549.5" x2="973" y2="549.5" stroke="#333"/>
</g>
<text x="1020" y="49.0" text-anchor="end" font-family="'Liberation Sans', Arial, sans-serif" font-size="11" fill="#000" stroke="#000" stroke-width="0.25">100,000</text>
<text x="1020" y="90.0" text-anchor="end" font-family="'Liberation Sans', Arial, sans-serif" font-size="11" fill="#000" stroke="#000" stroke-width="0.25">90,000</text>
<text x="1020" y="131.0" text-anchor="end" font-family="'Liberation Sans', Arial, sans-serif" font-size="11" fill="#000" stroke="#000" stroke-width="0.25">80,000</text>
<text x="1020" y="172.0" text-anchor="end" font-family="'Liberation Sans', Arial, sans-serif" font-size="11" fill="#000" stroke="#000" stroke-width="0.25">70,000</text>
<text x="1020" y="214.0" text-anchor="end" font-family="'Liberation Sans', Arial, sans-serif" font-size="11" fill="#000" stroke="#000" stroke-width="0.25">60,000</text>
<text x="1020" y="296.0" text-anchor="end" font-family="'Liberation Sans', Arial, sans-serif" font-size="11" fill="#000" stroke="#000" stroke-width="0.25">40,000</text>
<text x="1020" y="395" text-anchor="end" font-family="'Liberation Sans', Arial, sans-serif" font-size="11" fill="#000" stroke="#000" stroke-width="0.25">70</text>
<text x="1020" y="451" text-anchor="end" font-family="'Liberation Sans', Arial, sans-serif" font-size="11" fill="#000" stroke="#000" stroke-width="0.25">30</text>
<text x="1020" y="469.5" text-anchor="end" font-family="'Liberation Sans', Arial, sans-serif" font-size="11" fill="#000" stroke="#000" stroke-width="0.25">10,000M</text>
<text x="1020" y="490.5" text-anchor="end" font-family="'Liberation Sans', Arial, sans-serif" font-size="11" fill="#000" stroke="#000" stroke-width="0.25">8,000M</text>
<text x="1020" y="511.5" text-anchor="end" font-family="'Liberation Sans', Arial, sans-serif" font-size="11" fill="#000" stroke="#000" stroke-width="0.25">6,000M</text>
<text x="1020" y="532.5" text-anchor="end" font-family="'Liberation Sans', Arial, sans-serif" font-size="11" fill="#000" stroke="#000" stroke-width="0.25">4,000M</text>
<text x="1020" y="553.5" text-anchor="end" font-family="'Liberation Sans', Arial, sans-serif" font-size="11" fill="#000" stroke="#000" stroke-width="0.25">2,000M</text>
<polygon points="969.5,25.9 976,19.099999999999998 1024,19.099999999999998 1024,32.699999999999996 976,32.699999999999996" fill="#000"/>
<text x="1020" y="29.9" text-anchor="end" font-family="'Liberation Sans', Arial, sans-serif" font-size="11" fill="#fff" stroke="#fff" stroke-width="0.25">104,647</text>
<rect x="975" y="134.0" width="49" height="13.6" fill="#009600"/>
<text x="1022" y="144.8" text-anchor="end" font-family="'Liberation Sans', Arial, sans-serif" font-size="11" fill="#fff" stroke="#fff" stroke-width="0.25">76,886.2</text>
<rect x="975" y="247.1" width="49" height="13.6" fill="#ffff00"/>
<text x="1022" y="257.9" text-anchor="end" font-family="'Liberation Sans', Arial, sans-serif" font-size="11" fill="#000" stroke="#000" stroke-width="0.25">49,470.2</text>
<polygon points="969.5,380.3 976,373.5 1024,373.5 1024,387.1 976,387.1" fill="#ffa860"/>
<text x="1020" y="384.3" text-anchor="end" font-family="'Liberation Sans', Arial, sans-serif" font-size="11" fill="#000" stroke="#000" stroke-width="0.25">77.6349</text>
<polygon points="969,552.4 976,545.3 1024,545.3 1024,559.2 976,559.2" fill="#ff0000"/>
<text x="977" y="556.7" font-family="'Liberation Sans', Arial, sans-serif" font-size="11" fill="#000" stroke="#000" stroke-width="0.25">1,733,209,728</text>
<g shape-rendering="crispEdges">
<line x1="0.5" y1="0" x2="0.5" y2="571" stroke="#000"/>
<line x1="0" y1="0.5" x2="969" y2="0.5" stroke="#000"/>
</g>
<text x="4.96" y="580" font-family="'Liberation Sans', Arial, sans-serif" font-size="8.6" fill="#222" textLength="394.20" lengthAdjust="spacingAndGlyphs" style="font-kerning:none" stroke="#222" stroke-width="0.25">Created with AmiBroker - advanced charting and technical analysis software. http://www.amibroker.com</text>
</svg></body></html>
